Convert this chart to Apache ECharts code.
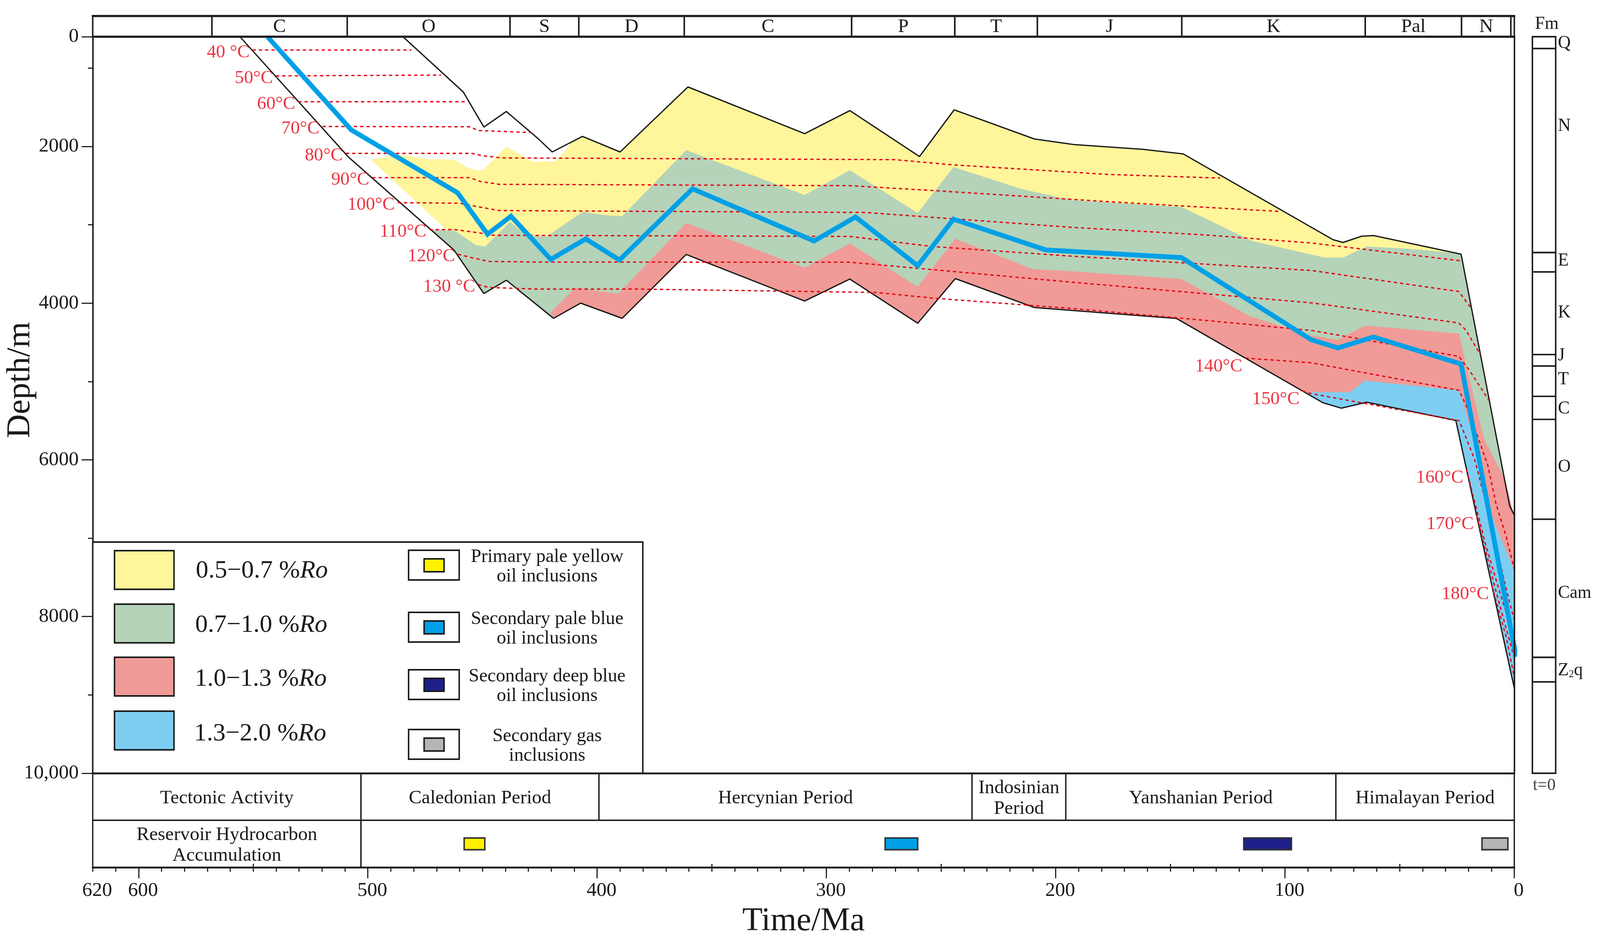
<!DOCTYPE html>
<html>
<head>
<meta charset="UTF-8">
<title>Burial and thermal history</title>
<style>
html,body{margin:0;padding:0;width:100%;height:100%;overflow:hidden;background:#fff;}
#main{width:100vw;height:100vh;}
</style>
</head>
<body>
<div id="main"></div>
<script src="https://cdn.jsdelivr.net/npm/echarts@6.0.0/dist/echarts.min.js"></script>
<script>
// ---- data: [time Ma, depth m] ----
var topLine = [[484.7,600],[458.4,1305],[449.4,1753],[439.6,1554],[425.6,1905],[419.6,2071],[406.4,1872],[390,2071],[360.4,1241],[309.5,1837],[289.8,1543],[259.4,2129],[244.3,1533],[209.3,1905],[192.1,1976],[162,2037],[144.4,2096],[79.1,3190],[74.7,3226],[66.6,3146],[61.4,3138],[23.2,3376],[2,6591],[0,6705]];
var bottomLine = [[555.8,600],[508.5,2135],[462.5,3321],[449.4,3878],[439.6,3708],[419,4194],[407.2,4000],[389.1,4194],[361.2,3379],[309.5,3973],[289.8,3693],[260.2,4257],[243.8,3687],[209.3,4056],[192.9,4093],[147.4,4195],[83.5,5271],[75.4,5341],[64.4,5264],[25.5,5498],[0,8913]];
var burialPath = [[543.8,600],[507.2,1790],[460.9,2591],[447.8,3121],[437.6,2891],[420.2,3442],[405,3180],[390.3,3450],[358.4,2541],[305.4,3207],[287.3,2901],[260.2,3522],[244.6,2929],[204.4,3321],[145.2,3419],[88.6,4467],[76.9,4572],[61.4,4432],[23.2,4777],[-0.8,8514]];

// maturity zones (%Ro), outlines
var zoneYellow = [[498.7,2169],[485.5,2106],[474,2162],[462.5,2169],[456,2278],[451.9,2312],[449.4,2292],[439.6,2005],[428,2196],[418.2,2191],[413.7,2048],[411.3,1950],[406.4,1872],[390,2071],[360.4,1241],[309.5,1837],[289.8,1543],[259.4,2129],[244.3,1533],[209.3,1905],[192.1,1976],[162,2037],[144.4,2096],[79.1,3190],[74.7,3226],[66.6,3146],[61.4,3138],[23.2,3376],[25.5,5498],[64.4,5264],[75.4,5341],[83.5,5271],[147.4,4195],[192.9,4093],[209.3,4056],[243.8,3687],[260.2,4257],[289.8,3693],[309.5,3973],[361.2,3379],[389.1,4194],[407.2,4000],[419,4194],[439.6,3708],[449.4,3878],[462.5,3321],[465.8,3062]];
var zoneGreen = [[471.8,3062],[462.1,3076],[452.8,3262],[448.7,3277],[438,2962],[431,3135],[421.9,3149],[406.4,2835],[396.5,2878],[389.1,2891],[361.2,2048],[309.5,2620],[289.8,2305],[260.2,2849],[244.6,2263],[214.3,2549],[192.9,2684],[145.2,2772],[114.3,3208],[82.7,3419],[74.7,3419],[64.4,3278],[46,3306],[29.9,3349],[24,3373],[23.2,3376],[2,6591],[0,6705],[0,8913],[25.5,5498],[64.4,5264],[75.4,5341],[83.5,5271],[147.4,4195],[192.9,4093],[209.3,4056],[243.8,3687],[260.2,4257],[289.8,3693],[309.5,3973],[361.2,3379],[389.1,4194],[407.2,4000],[419,4194],[439.6,3708],[449.4,3878],[462.5,3321],[471.8,3083]];
var zoneRed = [[420.3,4122],[409.6,3807],[390.8,3878],[361.2,2978],[309.5,3549],[289.8,3236],[260.2,3793],[243.8,3178],[210.1,3565],[192.9,3594],[145.2,3691],[115,4170],[88.6,4414],[76.9,4467],[65.1,4286],[24,4390],[21.5,4732],[13.2,5734],[4.1,6248],[0.9,6614],[0,6705],[0,8913],[25.5,5498],[64.4,5264],[75.4,5341],[83.5,5271],[147.4,4195],[192.9,4093],[209.3,4056],[243.8,3687],[260.2,4257],[289.8,3693],[309.5,3973],[361.2,3379],[389.1,4194],[407.2,4000],[419,4194]];
var zoneBlue = [[90.1,5138],[71.7,5138],[65.1,4990],[24,5114],[17.3,5775],[11.6,6591],[7.3,6903],[0,7406],[0,8913],[25.5,5498],[64.4,5264],[75.4,5341],[83.5,5271],[90.1,5160]];
var zoneNames = ['0.5\u22120.7 %', '0.7\u22121.0 %', '1.0\u22121.3 %', '1.3\u22122.0 %'];
var zoneColors = ['#FFF59B', '#B4D3B9', '#F09B97', '#7ECEF2'];

// isotherms
var isoLabels = ['40 \u00B0C','50\u00B0C','60\u00B0C','70\u00B0C','80\u00B0C','90\u00B0C','100\u00B0C','110\u00B0C','120\u00B0C','130 \u00B0C','140\u00B0C','150\u00B0C','160\u00B0C','170\u00B0C','180\u00B0C'];
var isotherms = [
  [[550.3,770],[481,770]],
  [[540.1,1100],[468.1,1090]],
  [[530.4,1430],[457,1430]],
  [[519.8,1745],[455.6,1750],[451.9,1797],[428.8,1823]],
  [[509.6,2089],[454.7,2089],[450.1,2118],[441.8,2147],[270.1,2169],[245.5,2234],[176.8,2358],[128.3,2404]],
  [[498.1,2399],[455.6,2399],[451,2447],[442.7,2484],[289.8,2501],[253.6,2563],[176.8,2706],[144.4,2761],[101.8,2831]],
  [[487,2718],[460.2,2725],[451.9,2770],[442.7,2819],[283.2,2843],[192.9,3033],[134.1,3131],[88.4,3233],[23.4,3460]],
  [[473.2,3062],[462.1,3062],[451,3105],[447.3,3134],[289.8,3149],[253.6,3278],[192.9,3401],[88.4,3584],[24.2,3852],[18.7,4070]],
  [[460.7,3376],[454.7,3420],[447.3,3468],[426.2,3476],[289.8,3478],[192.9,3733],[88.4,3997],[24.2,4253],[21,4348],[14.8,4660]],
  [[451.9,3763],[447.3,3800],[426.2,3821],[381.8,3821],[278.3,3864],[253.6,3936],[192.9,4068],[144,4195],[88.4,4349],[24.2,4679],[19.4,4865],[11.1,5240]],
  [[117.3,4701],[88.4,4762],[24,5114],[19.6,5403],[11.6,6064],[8,6559],[3.6,6972],[0,7399]],
  [[92.4,5120],[88.4,5156],[24,5500],[17.3,5995],[10.7,6738],[3.1,7702],[0,8046]],
  [[20.9,6119],[12.9,7041],[6.2,7702],[0,8280]],
  [[16.4,6711],[8.4,7633],[0,8528]],
  [[9.8,7605],[3.6,8252],[0,8775]]
];

// stratigraphic header
var stratNames = ['', 'C', 'O', 'S', 'D', 'C', 'P', 'T', 'J', 'K', 'Pal', 'N', ''];
var stratStart = [620, 568, 509, 438, 408, 362, 289, 244, 208, 145, 65, 23, 1.5];
var stratEnd   = [568, 509, 438, 408, 362, 289, 244, 208, 145, 65, 23, 1.5, 0];

// tectonic / accumulation table
var tableText  = ['Tectonic Activity', 'Caledonian Period', 'Hercynian Period', 'Indosinian\nPeriod', 'Yanshanian Period', 'Himalayan Period', 'Reservoir Hydrocarbon\nAccumulation', ''];
var tableRow   = [0, 0, 0, 0, 0, 0, 1, 1];
var tableStart = [620, 503, 399.2, 236.5, 195.6, 77.8, 620, 503];
var tableEnd   = [503, 399.2, 236.5, 195.6, 77.8, 0, 503, 0];

// inclusion episodes
var inclNames = ['Primary pale yellow\noil inclusions', 'Secondary pale blue\noil inclusions', 'Secondary deep blue\noil inclusions', 'Secondary gas\ninclusions'];
var inclStart = [458, 274.4, 118, 14.1];
var inclEnd   = [449, 260.2, 97.2, 2.8];
var inclColors = ['#FFF100', '#00A0E9', '#1D2088', '#B5B5B6'];

// formation column (present day)
var fmNames = ['Q', 'N', 'E', 'K', 'J', 'T', 'C', 'O', 'Cam', 'Z{s|2}q', ''];
var fmTop   = [600, 751, 3355, 3602, 4656, 4803, 5190, 5484, 6759, 8521, 8834];
var fmBase  = [751, 3355, 3602, 4656, 4803, 5190, 5484, 6759, 8521, 8834, 10000];
var fmLabelAt = [683, 1743, 3463, 4123, 4674, 4977, 5348, 6091, 7701, 8692, 9400];

// axes
var depthLabels = [600, 2000, 4000, 6000, 8000, 10000];
var depthMinor = [1000, 3000, 5000, 7000, 9000];
var timeLabels = [620, 600, 500, 400, 300, 200, 100, 0];
var timeMajor = [600, 500, 400, 300, 200, 100, 0];
var timeUpTicks = [550, 350, 250, 150, 50];
var timeMinor = [];
for (var tm = 0; tm <= 620; tm += 10) timeMinor.push(tm);

var FONT = 'Liberation Serif';
var INK = '#1a1a1a';
var RED = '#E60012';

var dom = document.getElementById('main');
var chart = echarts.init(dom, null, {renderer: 'canvas'});

// layout was measured on a 4331 x 2430 page; scale to whatever we got
var sx = chart.getWidth() / 4331, sy = chart.getHeight() / 2430, sf = Math.min(sx, sy);
function X(v) { return v * sx; }
function Y(v) { return v * sy; }
function F(v) { return v * sf; }

var zones = [zoneYellow, zoneGreen, zoneRed, zoneBlue];

var series = [];

// filled maturity zones
series.push({
  type: 'custom', xAxisIndex: 0, yAxisIndex: 0, silent: true, z: 1,
  data: zones.map(function (z, i) { return [i, 5000]; }),
  renderItem: function (params, api) {
    var pts = zones[params.dataIndex].map(function (p) { return api.coord(p); });
    return {type: 'polygon', shape: {points: pts}, style: {fill: zoneColors[params.dataIndex]}};
  }
});

// burial lines
[topLine, bottomLine].forEach(function (d) {
  series.push({type: 'line', xAxisIndex: 0, yAxisIndex: 0, data: d, symbol: 'none', silent: true, z: 3,
    lineStyle: {color: INK, width: F(3.5)}});
});

// isotherms
isotherms.forEach(function (d) {
  series.push({type: 'line', xAxisIndex: 0, yAxisIndex: 0, data: d, symbol: 'none', silent: true, z: 4,
    lineStyle: {color: RED, width: F(3.5), type: [F(9), F(8)]}});
});

// isotherm labels
series.push({
  type: 'scatter', xAxisIndex: 0, yAxisIndex: 0, silent: true, z: 6, symbolSize: 0.01,
  data: isotherms.map(function (d, i) { return {value: d[0], label: {offset: [0, Y(i >= 10 ? 22 : 6)]}}; }),
  label: {show: true, position: 'left', distance: X(8), color: RED, fontSize: F(50), fontFamily: FONT,
    formatter: function (p) { return isoLabels[p.dataIndex]; }}
});

// burial path of the reservoir
series.push({type: 'line', xAxisIndex: 0, yAxisIndex: 0, data: burialPath, symbol: 'none', silent: true, z: 5, clip: false,
  lineStyle: {color: '#00A0E6', width: F(13), join: 'miter'}});

// stratigraphic header
series.push({
  type: 'custom', xAxisIndex: 2, yAxisIndex: 3, silent: true, z: 2,
  data: stratStart.map(function (s, i) { return [s, stratEnd[i], 0.5]; }),
  encode: {x: [0, 1], y: 2},
  renderItem: function (params, api) {
    var i = params.dataIndex;
    var p0 = api.coord([stratStart[i], 1]);
    var p1 = api.coord([stratEnd[i], 0]);
    return {type: 'group', children: [
      {type: 'rect', shape: {x: p0[0], y: p0[1], width: p1[0] - p0[0], height: p1[1] - p0[1]},
        style: {fill: '#fff', stroke: INK, lineWidth: F(4)}},
      {type: 'text', x: (p0[0] + p1[0]) / 2, y: (p0[1] + p1[1]) / 2 + Y(2),
        style: {text: stratNames[i], fill: INK, fontSize: F(52), fontFamily: FONT, align: 'center', verticalAlign: 'middle'}}
    ]};
  }
});

// tectonic table
series.push({
  type: 'custom', xAxisIndex: 3, yAxisIndex: 4, silent: true, z: 2,
  data: tableStart.map(function (s, i) { return [s, tableEnd[i], tableRow[i] + 0.5]; }),
  encode: {x: [0, 1], y: 2},
  renderItem: function (params, api) {
    var i = params.dataIndex;
    var p0 = api.coord([tableStart[i], tableRow[i]]);
    var p1 = api.coord([tableEnd[i], tableRow[i] + 1]);
    return {type: 'group', children: [
      {type: 'rect', shape: {x: p0[0], y: p0[1], width: p1[0] - p0[0], height: p1[1] - p0[1]},
        style: {fill: '#fff', stroke: INK, lineWidth: F(3.5)}},
      {type: 'text', x: (p0[0] + p1[0]) / 2, y: (p0[1] + p1[1]) / 2 + Y(4),
        style: {text: tableText[i], fill: INK, fontSize: F(52), lineHeight: F(56), fontFamily: FONT, align: 'center', verticalAlign: 'middle'}}
    ]};
  }
});

// inclusion episodes
series.push({
  type: 'custom', xAxisIndex: 3, yAxisIndex: 4, silent: true, z: 3,
  data: inclStart.map(function (s, i) { return [s, inclEnd[i], 1.5]; }),
  encode: {x: [0, 1], y: 2},
  renderItem: function (params, api) {
    var i = params.dataIndex;
    var p0 = api.coord([inclStart[i], 1.5]);
    var p1 = api.coord([inclEnd[i], 1.5]);
    return {type: 'rect', shape: {x: p0[0], y: p0[1] - Y(15), width: p1[0] - p0[0], height: Y(30)},
      style: {fill: inclColors[i], stroke: '#333', lineWidth: F(4)}};
  }
});

// formation column
series.push({
  type: 'custom', xAxisIndex: 6, yAxisIndex: 5, silent: true, z: 2,
  data: fmTop.map(function (t, i) { return [0.5, t]; }),
  renderItem: function (params, api) {
    var i = params.dataIndex;
    var p0 = api.coord([0, fmTop[i]]);
    var p1 = api.coord([1, fmBase[i]]);
    var pl = api.coord([1, fmLabelAt[i]]);
    return {type: 'group', children: [
      {type: 'rect', shape: {x: p0[0], y: p0[1], width: p1[0] - p0[0], height: p1[1] - p0[1]},
        style: {fill: '#fff', stroke: INK, lineWidth: F(4)}},
      {type: 'text', x: pl[0] + X(6), y: pl[1],
        style: {text: fmNames[i], fill: INK, fontSize: F(48), fontFamily: FONT, align: 'left', verticalAlign: 'middle',
          rich: {s: {fontSize: F(28), fontFamily: FONT, fill: INK, verticalAlign: 'bottom', padding: [F(18), 0, 0, 0]}}}}
    ]};
  }
});

// legend and loose texts (drawn as graphics)
var els = [
  {type: 'rect', shape: {x: X(251), y: Y(1388), width: X(1489), height: Y(592)}, style: {fill: '#fff', stroke: INK, lineWidth: F(4)}}
];
var swY = [1410, 1547, 1683, 1821];
zoneNames.forEach(function (n, i) {
  els.push({type: 'rect', shape: {x: X(310), y: Y(swY[i]), width: X(161), height: Y(99)},
    style: {fill: zoneColors[i], stroke: INK, lineWidth: F(4)}});
  els.push({type: 'text', x: X(530 - i * 1.5), y: Y(swY[i] + 52 + i * 2),
    style: {text: n + '{it|Ro}', fill: INK, fontSize: F(68), fontFamily: FONT, verticalAlign: 'middle',
      rich: {it: {fontStyle: 'italic', fontSize: F(68), fontFamily: FONT, fill: INK}}}});
});
var ibY = [1409, 1568, 1715, 1868];
inclNames.forEach(function (n, i) {
  els.push({type: 'rect', shape: {x: X(1106), y: Y(ibY[i]), width: X(137), height: Y(76)},
    style: {fill: '#fff', stroke: INK, lineWidth: F(4)}});
  els.push({type: 'rect', shape: {x: X(1148), y: Y(ibY[i] + 22), width: X(54), height: Y(33)},
    style: {fill: inclColors[i], stroke: INK, lineWidth: F(4)}});
  els.push({type: 'text', x: X(1481), y: Y(ibY[i] + 42),
    style: {text: n, fill: INK, fontSize: F(51), lineHeight: F(53), fontFamily: FONT, align: 'center', verticalAlign: 'middle'}});
});
els.push({type: 'text', x: X(56), y: Y(973), rotation: Math.PI / 2,
  style: {text: 'Depth/m', fill: INK, fontSize: F(90), fontFamily: FONT, align: 'center', verticalAlign: 'middle'}});
els.push({type: 'text', x: X(4187), y: Y(62),
  style: {text: 'Fm', fill: INK, fontSize: F(48), fontFamily: FONT, align: 'center', verticalAlign: 'middle'}});
els.push({type: 'text', x: X(4180), y: Y(2012),
  style: {text: 't=0', fill: '#444', fontSize: F(46), fontFamily: FONT, align: 'center', verticalAlign: 'middle'}});
els.forEach(function (e) { e.z = 100; e.silent = true; });

function timeAxis(extra) {
  var a = {type: 'value', min: 0, max: 620, inverse: true, splitLine: {show: false}};
  for (var k in extra) a[k] = extra[k];
  return a;
}
function hiddenAxis(extra) {
  var a = {type: 'value', show: false, splitLine: {show: false}};
  for (var k in extra) a[k] = extra[k];
  return a;
}

var option = {
  backgroundColor: '#fff',
  animation: false,
  grid: [
    {left: X(251), top: Y(94), width: X(3848), height: Y(1886)},
    {left: X(251), top: Y(41), width: X(3848), height: Y(53)},
    {left: X(251), top: Y(1980), width: X(3848), height: Y(241)},
    {left: X(4148), top: Y(94), width: X(63), height: Y(1886)}
  ],
  xAxis: [
    timeAxis({gridIndex: 0, position: 'top', z: 10,
      axisLine: {onZero: false, lineStyle: {color: INK, width: F(6)}}, axisTick: {show: false}, axisLabel: {show: false}}),
    timeAxis({gridIndex: 0, position: 'bottom', z: 10,
      axisLine: {onZero: false, lineStyle: {color: INK, width: F(5)}}, axisTick: {show: false}, axisLabel: {show: false}}),
    timeAxis({gridIndex: 1, position: 'top', z: 10,
      axisLine: {onZero: false, lineStyle: {color: INK, width: F(6)}}, axisTick: {show: false}, axisLabel: {show: false}}),
    timeAxis({gridIndex: 2, position: 'bottom', z: 10,
      axisLine: {onZero: false, lineStyle: {color: INK, width: F(5)}},
      axisTick: {customValues: timeMajor, length: Y(28), lineStyle: {color: INK, width: F(3)}},
      axisLabel: {customValues: timeLabels, margin: Y(34), color: INK, fontSize: F(54), fontFamily: FONT,
        padding: [0, 0, 0, X(24)]},
      name: 'Time/Ma', nameLocation: 'middle', nameGap: Y(96),
      nameTextStyle: {color: INK, fontSize: F(90), fontFamily: FONT}}),
    timeAxis({gridIndex: 2, position: 'bottom', z: 10,
      axisLine: {show: false, onZero: false},
      axisTick: {customValues: timeMinor, length: Y(11), lineStyle: {color: INK, width: F(3)}},
      axisLabel: {show: false}}),
    timeAxis({gridIndex: 2, position: 'bottom', z: 10,
      axisLine: {show: false, onZero: false},
      axisTick: {customValues: timeUpTicks, inside: true, length: Y(9), lineStyle: {color: INK, width: F(3)}},
      axisLabel: {show: false}}),
    hiddenAxis({gridIndex: 3, min: 0, max: 1})
  ],
  yAxis: [
    {type: 'value', gridIndex: 0, min: 600, max: 10000, inverse: true, position: 'left', z: 10,
      splitLine: {show: false},
      axisLine: {show: true, onZero: false, lineStyle: {color: INK, width: F(4)}},
      axisTick: {show: true, customValues: depthLabels, length: X(30), lineStyle: {color: INK, width: F(3)}},
      axisLabel: {customValues: depthLabels, margin: X(38), color: INK, fontSize: F(54), fontFamily: FONT,
        formatter: function (v) { return v === 600 ? '0' : (v === 10000 ? '10,000' : String(v)); }}},
    {type: 'value', gridIndex: 0, min: 600, max: 10000, inverse: true, position: 'left', z: 10,
      splitLine: {show: false}, axisLine: {show: false, onZero: false},
      axisTick: {show: true, customValues: depthMinor, length: X(13), lineStyle: {color: INK, width: F(3)}},
      axisLabel: {show: false}},
    {type: 'value', gridIndex: 0, min: 600, max: 10000, inverse: true, position: 'right', z: 10,
      splitLine: {show: false},
      axisLine: {show: true, onZero: false, lineStyle: {color: INK, width: F(4)}},
      axisTick: {show: false}, axisLabel: {show: false}},
    hiddenAxis({gridIndex: 1, min: 0, max: 1}),
    hiddenAxis({gridIndex: 2, min: 0, max: 2, inverse: true}),
    hiddenAxis({gridIndex: 3, min: 600, max: 10000, inverse: true})
  ],
  graphic: {elements: els},
  series: series
};

chart.setOption(option);
window.addEventListener('resize', function () { chart.resize(); });
</script>
</body>
</html>
